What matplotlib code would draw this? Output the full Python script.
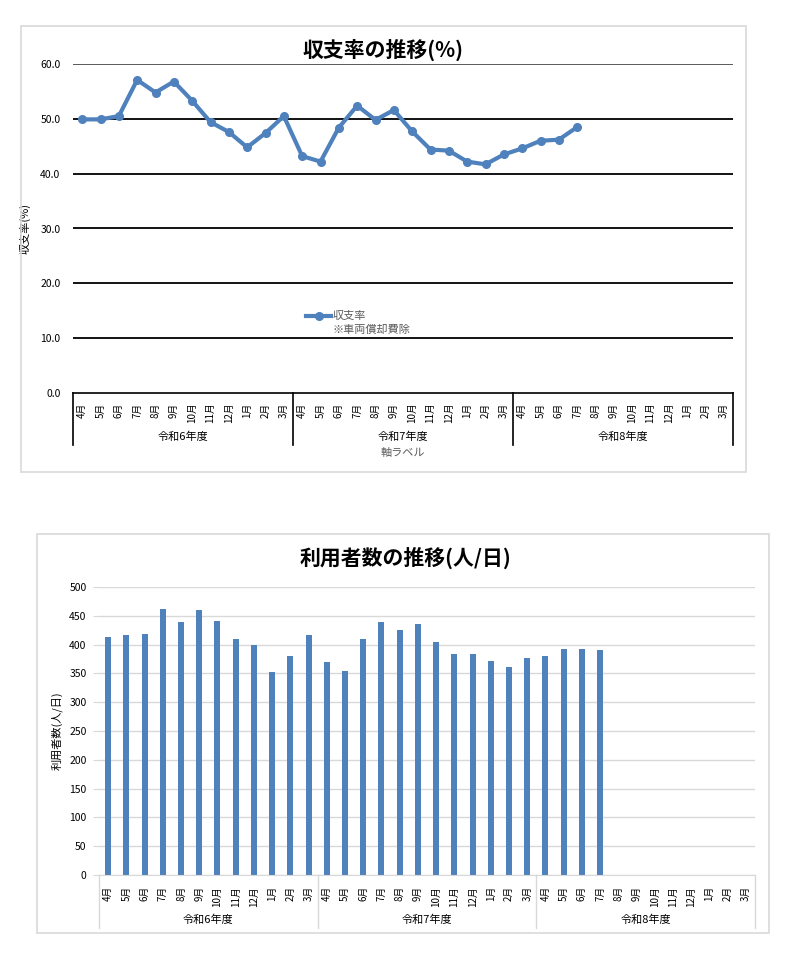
import matplotlib
matplotlib.use("Agg")
import matplotlib.pyplot as plt
from matplotlib.lines import Line2D
from matplotlib.patches import Rectangle
from matplotlib.transforms import blended_transform_factory

plt.rcParams['font.family'] = ['Noto Sans CJK JP', 'DejaVu Sans']

# データ
months = ['4月', '5月', '6月', '7月', '8月', '9月', '10月', '11月', '12月', '1月', '2月', '3月']
years = ['令和6年度', '令和7年度', '令和8年度']
categories = months * 3

# 収支率 (%)  ※車両償却費除
ratio = [49.9, 49.9, 50.5, 57.1, 54.8, 56.8, 53.3, 49.4, 47.6, 44.8, 47.4, 50.5,
         43.2, 42.2, 48.4, 52.4, 49.8, 51.6, 47.7, 44.4, 44.2, 42.2, 41.7, 43.5,
         44.6, 46.0, 46.2, 48.5]

# 利用者数 (人/日)
users = [413, 416, 418, 462, 439, 460, 441, 410, 400, 353, 381, 417,
         369, 354, 410, 440, 425, 436, 404, 383, 384, 372, 361, 376,
         381, 392, 392, 391]

blue = '#4F81BD'
W, H = 800, 972
fig = plt.figure(figsize=(8, 9.72), dpi=100)
fig.patch.set_facecolor('white')


def fx(px):
    return px / W


def fy(py):
    return 1 - py / H


# 枠
fig.add_artist(Rectangle((fx(21), fy(472)), fx(746 - 21), (472 - 26) / H,
                         transform=fig.transFigure, fill=False, ec='#D9D9D9', lw=1.2))
fig.add_artist(Rectangle((fx(37), fy(933)), fx(769 - 37), (933 - 534) / H,
                         transform=fig.transFigure, fill=False, ec='#D9D9D9', lw=1.2))

x = list(range(len(categories)))

# ---- 収支率 ----
ax1 = fig.add_axes([fx(73), fy(393), fx(733 - 73), (393 - 64) / H])
ax1.plot(x[:len(ratio)], ratio, color=blue, lw=3, marker='o', ms=5.5)
ax1.set_xlim(-0.5, len(categories) - 0.5)
ax1.set_ylim(0, 60)
ax1.set_yticks(range(0, 61, 10))
ax1.set_yticklabels([f'{v:.1f}' for v in range(0, 61, 10)], fontsize=7.5)
for v in range(10, 61, 10):
    ax1.axhline(v, color='#595959' if v == 60 else 'black', lw=1.4 if v == 60 else 1.3, zorder=0)
for s in ['top', 'right', 'left']:
    ax1.spines[s].set_visible(False)
ax1.spines['bottom'].set_color('black')
ax1.spines['bottom'].set_linewidth(1.2)
ax1.tick_params(axis='y', length=0, pad=9)
ax1.set_xticks(x)
ax1.set_xticklabels(categories, rotation=90, fontsize=7)
ax1.tick_params(axis='x', length=0, pad=7)
ax1.set_ylabel('収支率(%)', fontsize=8)
ax1.yaxis.set_label_coords(-0.065, 0.5)
tr1 = blended_transform_factory(ax1.transData, ax1.transAxes)
for b in [-0.5, 11.5, 23.5, 35.5]:
    ax1.plot([b, b], [0, -0.158], transform=tr1, color='black', lw=1.2, clip_on=False)
for i, yname in enumerate(years):
    ax1.text(5.5 + 12 * i, -0.134, yname, transform=tr1, ha='center', va='center', fontsize=8)
ax1.text(0.5, -0.182, '軸ラベル', transform=ax1.transAxes, ha='center', va='center',
         fontsize=8, color='#595959')
fig.text(fx(383), fy(50), '収支率の推移(%)', ha='center', va='center',
         fontsize=15, fontweight='bold')

# 凡例
fig.add_artist(Line2D([fx(306), fx(331)], [fy(316), fy(316)], color=blue, lw=3,
                      transform=fig.transFigure))
fig.add_artist(Line2D([fx(318.5)], [fy(316)], color=blue, marker='o', ms=5.5,
                      transform=fig.transFigure))
fig.text(fx(333), fy(316), '収支率', ha='left', va='center', fontsize=8, color='#595959')
fig.text(fx(333), fy(330), '※車両償却費除', ha='left', va='center', fontsize=8, color='#595959')

# ---- 利用者数 ----
ax2 = fig.add_axes([fx(99), fy(875), fx(755 - 99), (875 - 587) / H])
ax2.bar(x[:len(users)], users, width=0.33, color=blue, zorder=2)
ax2.set_xlim(-0.5, len(categories) - 0.5)
ax2.set_ylim(0, 500)
ax2.set_yticks(range(0, 501, 50))
ax2.tick_params(axis='y', labelsize=7.5, length=4, color='#D9D9D9', pad=5)
ax2.yaxis.grid(True, color='#D9D9D9', lw=1)
ax2.set_axisbelow(True)
for s in ['top', 'right', 'left']:
    ax2.spines[s].set_visible(False)
ax2.spines['bottom'].set_color('#D9D9D9')
ax2.set_xticks(x)
ax2.set_xticklabels(categories, rotation=90, fontsize=7)
ax2.tick_params(axis='x', length=0, pad=8)
ax2.set_ylabel('利用者数(人/日)', fontsize=8)
ax2.yaxis.set_label_coords(-0.056, 0.5)
tr2 = blended_transform_factory(ax2.transData, ax2.transAxes)
for b in [-0.5, 11.5, 23.5, 35.5]:
    ax2.plot([b, b], [0, -0.184], transform=tr2, color='#D9D9D9', lw=1, clip_on=False)
for i, yname in enumerate(years):
    ax2.text(5.5 + 12 * i, -0.156, yname, transform=tr2, ha='center', va='center', fontsize=8)
fig.text(fx(405), fy(558), '利用者数の推移(人/日)', ha='center', va='center',
         fontsize=15, fontweight='bold')

fig.savefig('out.png', dpi=100)
